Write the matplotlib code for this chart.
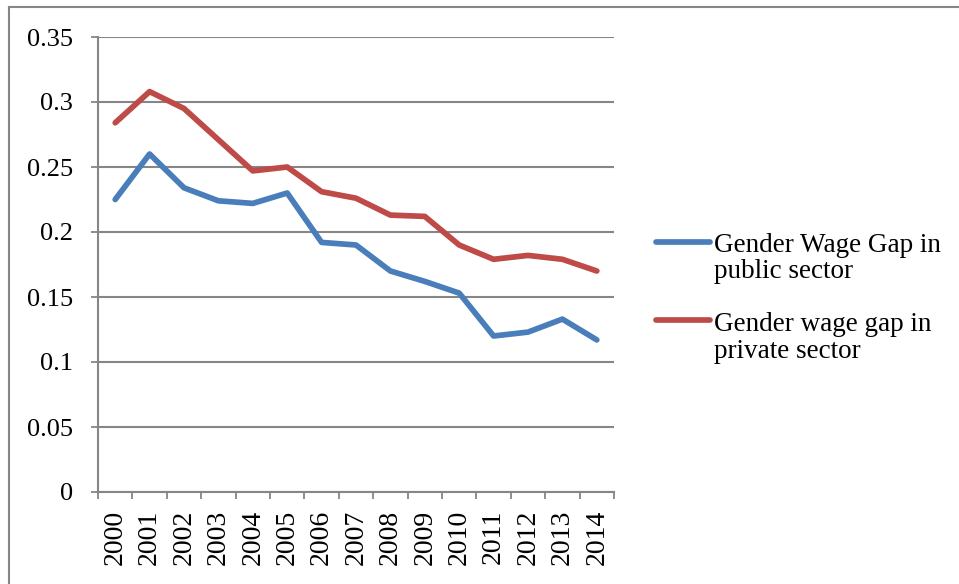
import matplotlib
matplotlib.use("Agg")
import matplotlib.pyplot as plt
from matplotlib.lines import Line2D

years = [str(y) for y in range(2000, 2015)]
public_sector = [0.225, 0.260, 0.234, 0.224, 0.222, 0.230, 0.192, 0.190, 0.170, 0.162, 0.153, 0.120, 0.123, 0.133, 0.117]
private_sector = [0.284, 0.308, 0.295, 0.271, 0.247, 0.250, 0.231, 0.226, 0.213, 0.212, 0.190, 0.179, 0.182, 0.179, 0.170]
legend_lines = [["Gender Wage Gap in", "public sector"], ["Gender wage gap in", "private sector"]]
yticks = [0, 0.05, 0.1, 0.15, 0.2, 0.25, 0.3, 0.35]
ytick_labels = ["0", "0.05", "0.1", "0.15", "0.2", "0.25", "0.3", "0.35"]

W, H = 959, 584
fig = plt.figure(figsize=(W / 100, H / 100), dpi=100)
ax = fig.add_axes([98 / W, 1 - 492 / H, (614 - 98) / W, (492 - 37) / H])

grey = "#868686"
colors = ["#4A7EBB", "#BE4B48"]
lw = 4.1
x = list(range(len(years)))
ax.plot(x, public_sector, color=colors[0], lw=lw, solid_capstyle="round", solid_joinstyle="round")
ax.plot(x, private_sector, color=colors[1], lw=lw, solid_capstyle="round", solid_joinstyle="round")

ax.set_xlim(-0.5, len(years) - 0.5)
ax.set_ylim(0, 0.35)
ax.set_yticks(yticks)
ax.set_yticklabels(ytick_labels, fontfamily="Liberation Serif", fontsize=19)
ax.yaxis.grid(True, color=grey, lw=1.5)
ax.set_axisbelow(True)

ax.set_xticks(x)
ax.set_xticklabels(years, rotation=90, fontfamily="Liberation Serif", fontsize=20)
ax.set_xticks([i - 0.5 for i in range(len(years) + 1)], minor=True)
ax.tick_params(axis="x", which="major", length=0, pad=13)
ax.tick_params(axis="x", which="minor", length=5, width=1.3, color=grey, direction="out")
ax.tick_params(axis="y", length=5, width=1.3, color=grey, direction="out", pad=13)

for s in ["top", "right"]:
    ax.spines[s].set_visible(False)
for s in ["left", "bottom"]:
    ax.spines[s].set_color(grey)
    ax.spines[s].set_linewidth(1.5)

# manual legend (handle aligned with first line of each label)
handle_y = [241.7, 320.0]
baselines = [[251.7, 278.5], [331.0, 357.5]]
for c, hy, bl, lines in zip(colors, handle_y, baselines, legend_lines):
    fig.add_artist(Line2D([655.5 / W, 709.5 / W], [1 - hy / H, 1 - hy / H], color=c, lw=lw,
                          solid_capstyle="round", transform=fig.transFigure))
    for b, t in zip(bl, lines):
        fig.text(714 / W, 1 - b / H, t, ha="left", va="baseline",
                 fontfamily="Liberation Serif", fontsize=19.5)

fig.add_artist(Line2D([9 / W, 1], [1 - 7 / H, 1 - 7 / H], color=grey, lw=1.5, transform=fig.transFigure))
fig.add_artist(Line2D([9 / W, 9 / W], [0, 1 - 7 / H], color=grey, lw=1.5, transform=fig.transFigure))

fig.savefig("out.png", dpi=100)
